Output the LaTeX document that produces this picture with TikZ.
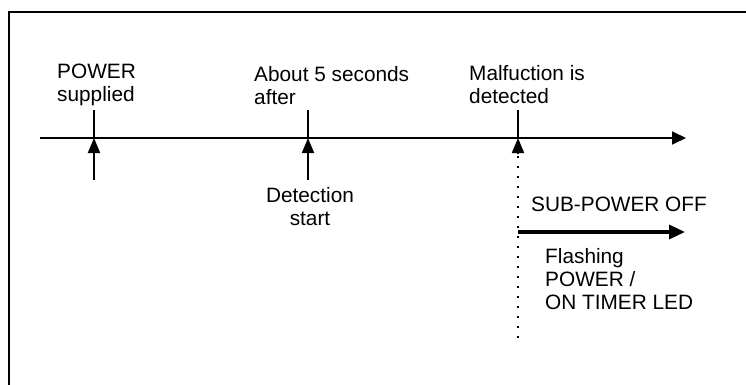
\documentclass[tikz,border=0pt]{standalone}
\usepackage{fontspec}
\setmainfont{Liberation Sans}
\usetikzlibrary{arrows.meta}
\begin{document}
\begin{tikzpicture}[x=1pt,y=-1pt,
  lbl/.style={font=\fontsize{20.8}{23}\selectfont, inner sep=0pt, align=left, anchor=north west},
  frame/.style={line width=2.6pt},
  axis/.style={line width=1.8pt},
  axisarrow/.style={axis, -{Triangle[length=14pt,width=13pt]}},
  tickarrow/.style={axis, -{Triangle[length=15pt,width=12pt]}},
  dotline/.style={line width=2.2pt, dash pattern=on 2.5pt off 7.5pt},
  thickarrow/.style={line width=3.4pt, -{Triangle[length=16pt,width=14pt]}}]
\useasboundingbox (0,0) rectangle (746,385);
% frame (open)
\coordinate (fbl) at (9,385);
\coordinate (ftl) at (9,12);
\coordinate (ftr) at (746,12);
\draw[frame] (fbl) -- (ftl) -- (ftr);
% timeline
\coordinate (ls) at (40,138);
\coordinate (le) at (686,138);
\draw[axisarrow] (ls) -- (le);
% ticks
\coordinate (t1) at (94,138);
\coordinate (t1u) at (94,110);
\coordinate (t1d) at (94,180);
\coordinate (t2) at (308,138);
\coordinate (t2u) at (308,110);
\coordinate (t2d) at (308,180);
\coordinate (t3) at (518,138);
\coordinate (t3u) at (518,110);
\coordinate (t3d) at (518,338);
\coordinate (t3a) at (518,154);
\draw[axis] (t1u) -- (t1);
\draw[tickarrow] (t1d) -- (t1);
\draw[axis] (t2u) -- (t2);
\draw[tickarrow] (t2d) -- (t2);
\draw[axis] (t3u) -- (t3);
\draw[dotline] (t3d) -- (t3a);
\draw[tickarrow] (t3a) -- (t3);
% sub-power arrow
\coordinate (ss) at (518,232);
\coordinate (se) at (685,232);
\draw[thickarrow] (ss) -- (se);
% labels
\node[lbl] (power) at (57,63.5) {POWER\\supplied};
\node[lbl] (about) at (254,66) {About 5 seconds\\after};
\node[lbl] (malf) at (469,65) {Malfuction is\\detected};
\node[lbl, align=center, anchor=north] (det) at (310,187) {Detection\\start};
\node[lbl] (sub) at (531,197) {SUB-POWER OFF};
\node[lbl] (flash) at (545,248) {Flashing\\POWER /\\ON TIMER LED};
\end{tikzpicture}
\end{document}
